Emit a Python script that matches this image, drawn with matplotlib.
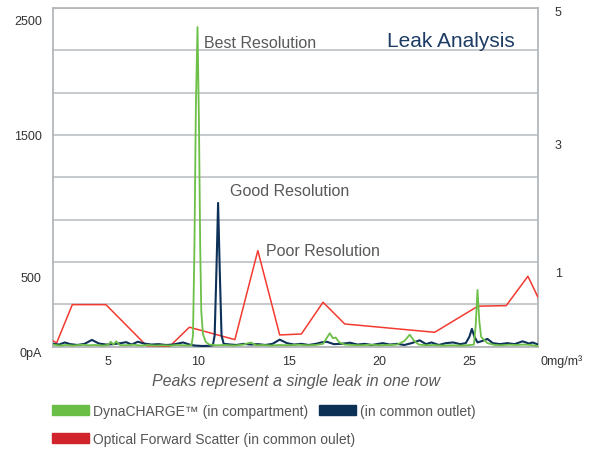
import matplotlib
matplotlib.use("Agg")

import matplotlib.pyplot as plt
from matplotlib.patches import Patch

# ---------------------------
# DATA
# ---------------------------

# Optical forward scatter (red), x in mg/m3 axis units, y in pA scale
red_x = [1.95, 2.15, 3.02, 4.88, 7.13, 8.42, 9.5, 12.02, 13.29, 14.5, 15.7,
         16.9, 18.1, 23.08, 25.47, 27.04, 28.24, 28.8]
red_y = [42, 26, 298, 298, 7, 3, 138, 50, 681, 83, 90,
         315, 161, 102, 287, 291, 499, 350]

# DynaCHARGE in compartment (green)
green_x = [1.95, 2.3, 2.7, 3.1, 3.5, 3.9, 4.3, 4.7, 5.0, 5.15, 5.3, 5.45,
           5.65, 6.0, 6.4, 6.8, 7.2, 7.6, 8.0, 8.4, 8.8, 9.2, 9.5, 9.62,
           9.7, 9.78, 9.86, 9.95, 10.03, 10.1, 10.16, 10.25, 10.4, 10.6,
           11.0, 11.5, 12.0, 12.5, 12.9, 13.2, 13.6, 14.0, 14.5, 15.0, 15.5,
           16.0, 16.5, 16.9, 17.27, 17.45, 17.6, 17.8, 18.1, 18.5, 19.0,
           19.5, 20.0, 20.5, 21.0, 21.4, 21.7, 21.95, 22.2, 22.6, 23.0,
           23.5, 24.0, 24.5, 24.9, 25.25, 25.35, 25.45, 25.55, 25.65, 25.8,
           26.0, 26.4, 26.8, 27.2, 27.6, 28.0, 28.4, 28.8]
green_y = [15, 8, 12, 8, 14, 10, 12, 8, 12, 35, 15, 38,
           12, 10, 14, 8, 12, 8, 10, 8, 12, 10, 8, 12,
           80, 700, 1700, 2265, 1600, 700, 250, 90, 35, 15,
           10, 12, 8, 15, 30, 10, 12, 8, 12, 10, 14,
           10, 12, 20, 95, 60, 65, 30, 15, 12, 10,
           14, 10, 12, 15, 40, 85, 40, 15, 10, 12,
           8, 10, 8, 10, 15, 150, 402, 180, 70, 50,
           25, 12, 10, 14, 12, 15, 12, 5]

# in common outlet (navy)
navy_x = [1.95, 2.3, 2.6, 2.9, 3.3, 3.7, 4.1, 4.5, 4.9, 5.3, 5.7, 6.0, 6.3,
          6.65, 7.0, 7.4, 7.8, 8.2, 8.6, 9.15, 9.5, 9.8, 10.2, 10.6, 10.8,
          10.9, 11.0, 11.09, 11.18, 11.28, 11.4, 11.8, 12.1, 12.5, 12.9,
          13.3, 13.7, 14.1, 14.5, 14.9, 15.3, 15.7, 16.1, 16.5, 16.8, 17.1,
          17.5, 17.9, 18.4, 18.8, 19.2, 19.6, 20.2, 20.6, 21.0, 21.4, 21.8,
          22.25, 22.6, 22.9, 23.3, 23.7, 24.1, 24.5, 24.8, 25.0, 25.14,
          25.28, 25.45, 25.7, 26.0, 26.3, 26.7, 27.1, 27.5, 27.95, 28.3,
          28.5, 28.8]
navy_y = [20, 15, 30, 18, 12, 20, 48, 22, 15, 18, 25, 32, 15,
          35, 22, 15, 18, 12, 15, 30, 15, 8, 5, 6, 10,
          80, 550, 1019, 550, 80, 20, 15, 12, 20, 15,
          18, 12, 20, 50, 25, 15, 20, 12, 20, 30, 35,
          18, 20, 28, 15, 20, 12, 25, 15, 20, 12, 25,
          45, 18, 30, 12, 25, 30, 18, 25, 70, 126,
          70, 30, 40, 55, 25, 18, 25, 18, 38, 22,
          30, 15]

x_ticks = [5, 10, 15, 20, 25]

# left / right scale labels (placed where the reference shows them)
left_labels = ["2500", "1500", "500", "0pA"]
left_label_pos = [2310, 1494, 487, -45]
right_labels = ["5", "3", "1"]
right_label_pos = [2374, 1430, 523]

GREEN = "#6cbf47"
NAVY = "#0d3158"
RED = "#f23a30"
GRAY = "#595959"

plt.rcParams["font.family"] = ["Liberation Sans", "DejaVu Sans"]

fig = plt.figure(figsize=(5.98, 4.52), dpi=100)
ax = fig.add_axes([0.0886, 0.2308, 0.8111, 0.7492])

ax.plot(red_x, red_y, color=RED, lw=1.1, zorder=3)
ax.plot(navy_x, navy_y, color=NAVY, lw=1.5, zorder=4)
ax.plot(green_x, green_y, color=GREEN, lw=1.3, zorder=5)

ax.set_xlim(1.95, 28.8)
ax.set_ylim(0, 2400)

# grid every 300 units
ax.set_yticks(range(0, 2401, 300))
ax.set_yticklabels([])
ax.yaxis.grid(True, color="#c3c6c9", lw=1.3)
ax.set_axisbelow(True)
ax.tick_params(axis="y", length=0)

ax.set_xticks(x_ticks)
ax.set_xticklabels([str(v) for v in x_ticks], fontsize=9, color="#333333")
ax.tick_params(axis="x", length=0, pad=6)

for s in ax.spines.values():
    s.set_color("#b4b7ba")
    s.set_linewidth(1.3)

ytr = ax.get_yaxis_transform()
for lab, pos in zip(left_labels, left_label_pos):
    ax.text(-0.023, pos, lab, transform=ytr, ha="right", va="center",
            fontsize=9, color="#333333", clip_on=False)
for lab, pos in zip(right_labels, right_label_pos):
    ax.text(1.035, pos, lab, transform=ytr, ha="left", va="center",
            fontsize=9, color="#333333", clip_on=False)
ax.text(1.006, -101, "0mg/m³", transform=ytr, ha="left", va="center",
        fontsize=9, color="#333333", clip_on=False)

# annotations
ax.text(10.30, 2154, "Best Resolution", fontsize=11.5, color=GRAY, va="center")
ax.text(11.74, 1104, "Good Resolution", fontsize=11.5, color=GRAY, va="center")
ax.text(13.73, 679, "Poor Resolution", fontsize=11.5, color=GRAY, va="center")
ax.text(0.82, 0.905, "Leak Analysis", transform=ax.transAxes, fontsize=15,
        color="#1d3c64", ha="center", va="center")

ax.set_xlabel("Peaks represent a single leak in one row", fontsize=11.5,
              style="italic", color=GRAY, labelpad=4)

# legend: two rows, laid out like the reference
leg_size = 10
fpx = leg_size * 100 / 72
leg_kw = dict(frameon=False, prop={"size": leg_size},
              handlelength=37 / fpx, handleheight=10 / fpx,
              handletextpad=0.3, columnspacing=0.75,
              borderaxespad=0, borderpad=0)

leg1 = fig.legend([Patch(color="#6abd45"), Patch(color="#0b3155")],
                  ["DynaCHARGE™ (in compartment)", "(in common outlet)"],
                  ncol=2, loc="center left", bbox_to_anchor=(0.087, 0.0885),
                  **leg_kw)
leg2 = fig.legend([Patch(color="#d1232a")],
                  ["Optical Forward Scatter (in common oulet)"],
                  loc="center left", bbox_to_anchor=(0.087, 0.0265),
                  **leg_kw)
for lg in (leg1, leg2):
    for t in lg.get_texts():
        t.set_color("#555555")

fig.savefig("out.png", dpi=100)
